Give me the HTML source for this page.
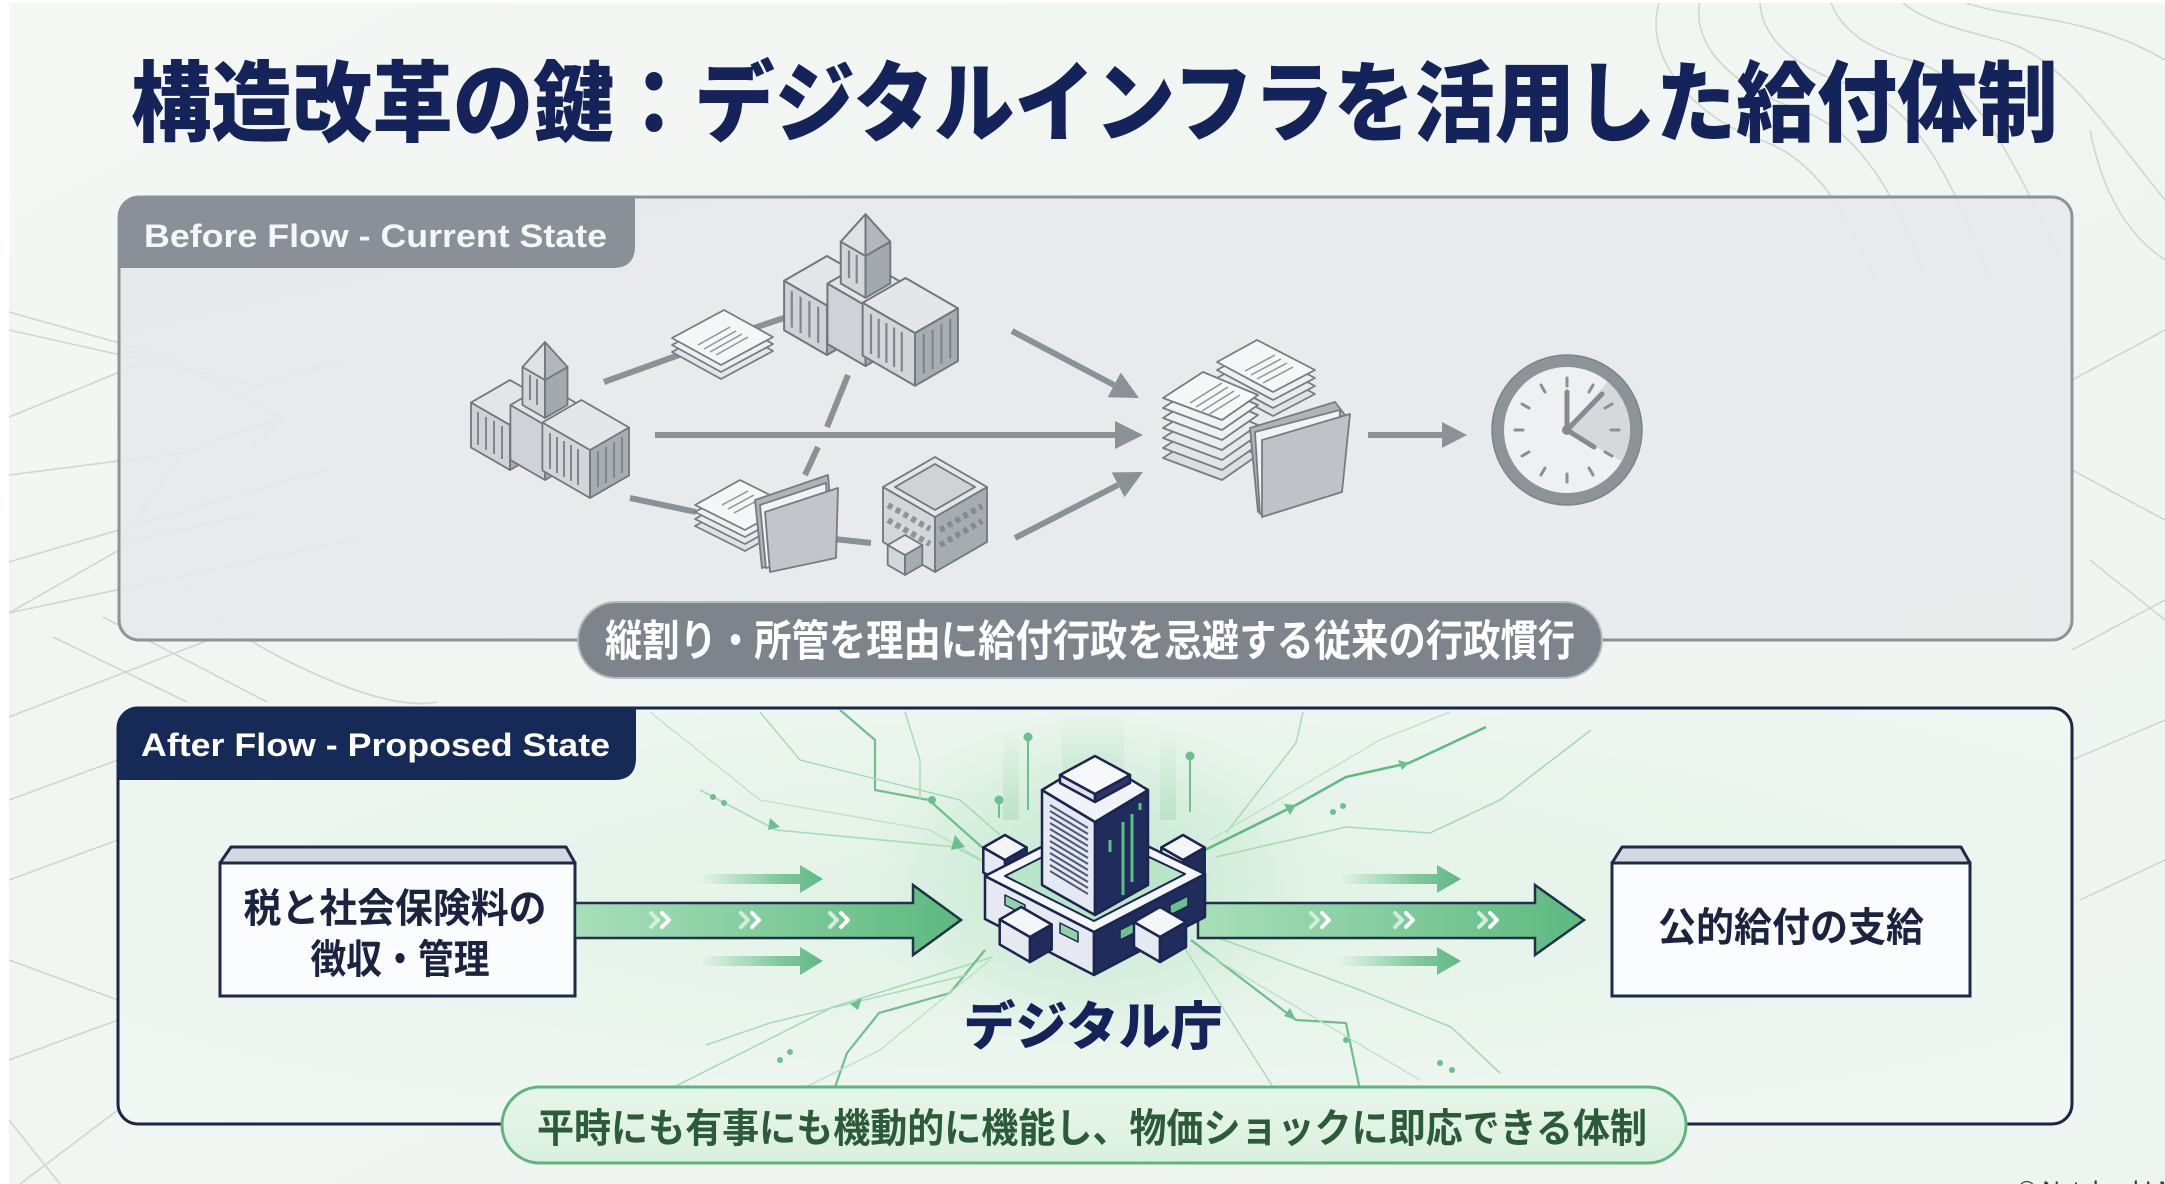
<!DOCTYPE html>
<html><head><meta charset="utf-8">
<style>
html,body{margin:0;padding:0;width:2165px;height:1184px;overflow:hidden;background:#f1f5f1;}
svg{display:block}
</style></head><body>
<svg width="2165" height="1184" viewBox="0 0 2165 1184" xmlns="http://www.w3.org/2000/svg" font-family="'Liberation Sans','Noto Sans CJK JP',sans-serif">
<defs>
 <linearGradient id="bg" x1="0" y1="0" x2="1" y2="1"><stop offset="0" stop-color="#f4f7f4"/><stop offset="1" stop-color="#eef4ef"/></linearGradient>
 <linearGradient id="beforeFill" x1="0" y1="0" x2="1" y2="1"><stop offset="0" stop-color="#e6e8ea"/><stop offset="1" stop-color="#e9ebec"/></linearGradient>
 <radialGradient id="afterFill" cx="0.5" cy="0.45" r="0.65"><stop offset="0" stop-color="#e0f2e5"/><stop offset="1" stop-color="#f1f7f2"/></radialGradient>
 <radialGradient id="glow" cx="0.5" cy="0.5" r="0.5"><stop offset="0" stop-color="#bfe6cc" stop-opacity="0.9"/><stop offset="1" stop-color="#bfe6cc" stop-opacity="0"/></radialGradient>
 <linearGradient id="vglow" x1="0" y1="0" x2="0" y2="1"><stop offset="0" stop-color="#c6e9d1" stop-opacity="0"/><stop offset="1" stop-color="#b8e3c6" stop-opacity="0.9"/></linearGradient>
 <linearGradient id="gArrow" x1="0" y1="0" x2="1" y2="0"><stop offset="0" stop-color="#a9dfba"/><stop offset="1" stop-color="#5cb97f"/></linearGradient>
 <linearGradient id="gSmall" x1="0" y1="0" x2="1" y2="0"><stop offset="0" stop-color="#6cc08d" stop-opacity="0"/><stop offset="0.65" stop-color="#6cc08d" stop-opacity="0.85"/><stop offset="1" stop-color="#5fb983"/></linearGradient>
 <linearGradient id="pillG" x1="0" y1="0" x2="0" y2="1"><stop offset="0" stop-color="#e8f6eb"/><stop offset="1" stop-color="#d9f0df"/></linearGradient>
 <clipPath id="afterClip"><rect x="120" y="710" width="1950" height="412" rx="19"/></clipPath>

 <g id="gov" stroke="#72777d" stroke-width="1.8" stroke-linejoin="round">
  <polygon points="510,470 471,447.5 471,402.5 510,425" fill="#cfd2d6"/>
  <polygon points="510,470 549,447.5 549,402.5 510,425" fill="#a8adb2"/>
  <polygon points="510,425 549,402.5 510,380 471,402.5" fill="#e3e5e7"/>
  <polygon points="545,480 510.4,460 510.4,405 545,425" fill="#cfd2d6"/>
  <polygon points="545,480 579.6,460 579.6,405 545,425" fill="#a8adb2"/>
  <polygon points="545,425 579.6,405 545,385 510.4,405" fill="#e3e5e7"/>
  <polygon points="545,418 522.5,405 522.5,367 545,380" fill="#d3d6d9"/>
  <polygon points="545,418 567.5,405 567.5,367 545,380" fill="#a4a9ae"/>
  <polygon points="522.5,367 545,380 545,342" fill="#dfe1e3"/>
  <polygon points="545,380 567.5,367 545,342" fill="#b3b7bc"/>
  <polygon points="590,498 542.4,470.5 542.4,422.5 590,450" fill="#d3d6d9"/>
  <polygon points="590,498 629,475.5 629,427.5 590,450" fill="#a8adb2"/>
  <polygon points="590,450 629,427.5 581.4,400 542.4,422.5" fill="#e4e6e8"/>
  <g stroke="#80868c" stroke-width="2">
   <line x1="550" y1="433" x2="550" y2="469"/><line x1="557" y1="437" x2="557" y2="473"/><line x1="564" y1="441" x2="564" y2="477"/><line x1="571" y1="445" x2="571" y2="481"/><line x1="578" y1="449" x2="578" y2="485"/>
   <line x1="598" y1="451" x2="598" y2="487"/><line x1="606" y1="447" x2="606" y2="483"/><line x1="614" y1="442" x2="614" y2="478"/><line x1="622" y1="437" x2="622" y2="473"/>
   <line x1="478" y1="412" x2="478" y2="445"/><line x1="486" y1="417" x2="486" y2="450"/><line x1="494" y1="421" x2="494" y2="454"/><line x1="502" y1="426" x2="502" y2="459"/>
   <line x1="530" y1="375" x2="530" y2="400"/><line x1="537" y1="379" x2="537" y2="405"/>
  </g>
 </g>
</defs>

<!-- background -->
<rect width="2165" height="1184" fill="url(#bg)"/>
<g fill="none" stroke="#d1d6d3" stroke-width="1.6">
 <path d="M9,312 L162,355 L282,418"/>
 <path d="M9,330 L260,386 L347,358"/>
 <path d="M9,417 L162,355"/>
 <path d="M9,475 L182,453 L282,418 L198,505 L9,613"/>
 <path d="M182,453 L120,543"/>
 <path d="M9,562 L328,469"/>
 <path d="M120,543 L260,513"/>
 <path d="M9,613 L360,538"/>
 <path d="M182,578 Q207,623 300,667 T437,702"/>
 <path d="M103,617 L267,702"/>
 <path d="M53,637 L187,702"/>
 <path d="M9,717 L227,633"/>
 <path d="M9,800 L118,760"/><path d="M9,880 L118,840"/><path d="M9,960 L118,1000"/><path d="M9,1060 L118,1020"/><path d="M20,1184 L118,1110"/><path d="M60,1184 L9,1120"/>
 <path d="M2072,380 L2165,330"/><path d="M2072,470 L2165,520"/><path d="M2090,560 L2165,620"/><path d="M2072,650 L2165,600"/><path d="M2072,760 L2165,720"/><path d="M2080,900 L2165,860"/>
 <path d="M1660,0 C1640,60 1700,120 1760,140 C1820,160 1850,220 1880,290"/>
 <path d="M1700,0 C1690,50 1740,90 1800,110 C1860,130 1900,200 1930,290"/>
 <path d="M1760,0 C1760,40 1800,70 1850,85 C1910,100 1950,170 1990,280"/>
 <path d="M1830,0 C1840,30 1870,50 1910,60 C1970,75 2010,150 2060,260"/>
 <path d="M1900,0 C1920,20 1960,30 2000,40 C2060,55 2100,120 2165,200"/>
 <path d="M1960,0 C2000,20 2080,10 2165,60"/>
 <path d="M2165,260 C2120,230 2100,180 2090,130"/>
</g>
<rect x="0" y="0" width="9" height="1184" fill="#ffffff"/>
<rect x="0" y="0" width="2165" height="3" fill="#ffffff"/>

<!-- title -->
<text x="131" y="104" font-size="88" font-weight="900" fill="#14245a" dominant-baseline="central" textLength="1927" lengthAdjust="spacingAndGlyphs">構造改革の鍵：デジタルインフラを活用した給付体制</text>

<!-- BEFORE PANEL -->
<rect x="119" y="197" width="1953" height="443" rx="20" fill="url(#beforeFill)" fill-opacity="0.93" stroke="#8d9399" stroke-width="3"/>
<path d="M119,268 L119,217 Q119,197 139,197 L635,197 L635,246 Q635,268 613,268 Z" fill="#8a9097"/>
<text x="144" y="247" font-size="32" font-weight="bold" fill="#f5f6f7" textLength="463" lengthAdjust="spacingAndGlyphs">Before Flow - Current State</text>

<!-- gray connectors -->
<g stroke="#8c9197" stroke-width="6" stroke-linecap="butt" fill="none">
 <line x1="604" y1="382" x2="679" y2="355"/>
 <line x1="754" y1="328" x2="784" y2="318"/>
 <line x1="848" y1="375" x2="827" y2="427"/>
 <line x1="818" y1="447" x2="805" y2="475"/>
 <line x1="630" y1="498" x2="696" y2="512"/>
 <line x1="825" y1="538" x2="871" y2="543"/>
 <line x1="655" y1="435" x2="1117" y2="435"/>
 <line x1="1012" y1="331" x2="1114" y2="385"/>
 <line x1="1015" y1="538" x2="1118" y2="485"/>
 <line x1="1368" y1="435" x2="1444" y2="435"/>
</g>
<g fill="#8c9197">
 <polygon points="1143,435 1115,421 1115,449"/>
 <polygon points="1139,398 1120.7,372.5 1107.7,397.3"/>
 <polygon points="1143,472 1124.5,497.2 1111.7,472.4"/>
 <polygon points="1467,435 1442,422 1442,448"/>
</g>

<!-- gov buildings -->
<use href="#gov"/>
<use href="#gov" transform="translate(871,300) scale(1.1) translate(-550,-420)"/>

<!-- small building -->
<g stroke="#72777d" stroke-width="1.8" stroke-linejoin="round">
 <polygon points="935,572 883,542 883,487 935,517" fill="#d4d7da"/>
 <polygon points="935,572 987,542 987,487 935,517" fill="#a7acb1"/>
 <polygon points="935,517 987,487 935,457 883,487" fill="#e4e6e8"/>
 <polygon points="935,510 975,487 935,464 895,487" fill="#d0d3d6"/>
 <path d="M888,505 L930,529 M888,520 L930,544" stroke="#8f9499" stroke-width="6" stroke-dasharray="5 4"/>
 <path d="M940,530 L982,506 M940,545 L982,521" stroke="#868b91" stroke-width="6" stroke-dasharray="5 4"/>
 <polygon points="905,575 887.7,565 887.7,545 905,555" fill="#d4d7da"/>
 <polygon points="905,575 922.3,565 922.3,545 905,555" fill="#a7acb1"/>
 <polygon points="905,555 922.3,545 905,535 887.7,545" fill="#e8eaec"/>
</g>

<!-- top doc stack -->
<g stroke="#777c82" stroke-width="1.8" stroke-linejoin="round">
 <polygon points="672,352 724,324 773,351 721,379" fill="#e4e6e8"/>
 <polygon points="672,345 724,317 773,344 721,372" fill="#eceeef"/>
 <polygon points="672,338 724,310 773,337 721,365" fill="#f5f6f7"/>
 <g stroke="#8f9499" stroke-width="1.5"><line x1="698" y1="345" x2="730" y2="327"/><line x1="704" y1="349" x2="736" y2="331"/><line x1="710" y1="352" x2="742" y2="334"/><line x1="716" y1="355" x2="748" y2="337"/></g>
</g>

<!-- bottom doc + folder -->
<g stroke="#777c82" stroke-width="1.8" stroke-linejoin="round">
 <polygon points="695,526 740,501 790,526 745,551" fill="#e0e2e4"/>
 <polygon points="695,519 740,494 790,519 745,544" fill="#e8eaeb"/>
 <polygon points="695,512 740,487 790,512 745,537" fill="#eef0f1"/>
 <polygon points="695,505 740,480 790,505 745,530" fill="#f5f6f7"/>
 <g stroke="#8f9499" stroke-width="1.5"><line x1="722" y1="505" x2="748" y2="491"/><line x1="728" y1="509" x2="754" y2="495"/><line x1="734" y1="513" x2="760" y2="499"/></g>
 <polygon points="755,500 828,475 834,548 762,568" fill="#b0b4b9"/>
 <polygon points="760,505 826,483 830,552 766,568" fill="#f2f3f4"/>
 <polygon points="765,512 838,488 836,558 770,572" fill="#c2c6ca"/>
</g>

<!-- merged stack -->
<g stroke="#777c82" stroke-width="1.8" stroke-linejoin="round">
 <polygon points="1217,386 1257,364 1315,394 1273,416" fill="#e0e2e4"/>
 <polygon points="1217,378 1257,356 1315,386 1273,408" fill="#e8eaeb"/>
 <polygon points="1217,370 1257,348 1315,378 1273,400" fill="#eef0f1"/>
 <polygon points="1217,362 1257,340 1315,370 1273,392" fill="#f5f6f7"/>
 <g stroke="#8f9499" stroke-width="1.5"><line x1="1245" y1="371" x2="1275" y2="355"/><line x1="1251" y1="375" x2="1281" y2="359"/><line x1="1257" y1="379" x2="1287" y2="363"/><line x1="1263" y1="383" x2="1293" y2="367"/></g>
 <polygon points="1163,458 1203,432 1258,455 1222,480" fill="#dcdee0"/>
 <polygon points="1163,448 1203,422 1258,445 1222,470" fill="#e2e4e6"/>
 <polygon points="1163,438 1203,412 1258,435 1222,460" fill="#e6e8ea"/>
 <polygon points="1163,428 1203,402 1258,425 1222,450" fill="#eaeced"/>
 <polygon points="1163,418 1203,392 1258,415 1222,440" fill="#eef0f1"/>
 <polygon points="1163,408 1203,382 1258,405 1222,430" fill="#f1f2f3"/>
 <polygon points="1163,398 1203,372 1258,395 1222,420" fill="#f6f7f8"/>
 <g stroke="#8f9499" stroke-width="1.5"><line x1="1190" y1="403" x2="1222" y2="383"/><line x1="1196" y1="407" x2="1228" y2="387"/><line x1="1202" y1="411" x2="1234" y2="391"/><line x1="1208" y1="415" x2="1240" y2="395"/></g>
 <polygon points="1250,428 1335,402 1345,415 1340,488 1258,512" fill="#b0b4b9"/>
 <polygon points="1255,432 1340,410 1338,492 1260,514" fill="#f2f3f4"/>
 <polygon points="1262,440 1350,414 1342,492 1262,517" fill="#bfc3c7"/>
</g>

<!-- clock -->
<circle cx="1567" cy="430" r="69" fill="#eef0f1" stroke="#8e9398" stroke-width="12"/>
<circle cx="1567" cy="430" r="75" fill="none" stroke="#7d8288" stroke-width="1.5"/>
<path d="M1567,430 L1607.5,381.7 A63,63 0 0 1 1621.6,461.5 Z" fill="#d6d9dc"/>
<g stroke="#8a8f95" stroke-width="3" stroke-linecap="round">
 <line x1="1567" y1="378" x2="1567" y2="386"/><line x1="1567" y1="474" x2="1567" y2="482"/>
 <line x1="1515" y1="430" x2="1523" y2="430"/><line x1="1611" y1="430" x2="1619" y2="430"/>
 <line x1="1593" y1="385" x2="1589" y2="392"/><line x1="1612" y1="404" x2="1605" y2="408"/>
 <line x1="1612" y1="456" x2="1605" y2="452"/><line x1="1593" y1="475" x2="1589" y2="468"/>
 <line x1="1541" y1="475" x2="1545" y2="468"/><line x1="1522" y1="456" x2="1529" y2="452"/>
 <line x1="1522" y1="404" x2="1529" y2="408"/><line x1="1541" y1="385" x2="1545" y2="392"/>
</g>
<g stroke="#868b91" stroke-width="5" stroke-linecap="round">
 <line x1="1567" y1="430" x2="1567" y2="392"/>
 <line x1="1567" y1="430" x2="1602" y2="394"/>
 <line x1="1567" y1="430" x2="1594" y2="447"/>
</g>
<circle cx="1567" cy="430" r="5" fill="#868b91"/>

<!-- caption pill -->
<rect x="578" y="602" width="1024" height="76" rx="38" fill="#7e848b" stroke="#b9bdc1" stroke-width="2"/>
<text x="1090" y="642" text-anchor="middle" dominant-baseline="central" font-size="43" font-weight="bold" fill="#ffffff" textLength="970" lengthAdjust="spacingAndGlyphs">縦割り・所管を理由に給付行政を忌避する従来の行政慣行</text>

<!-- AFTER PANEL -->
<rect x="118" y="708" width="1954" height="416" rx="20" fill="url(#afterFill)" fill-opacity="0.95"/>
<g clip-path="url(#afterClip)">
 <ellipse cx="1094" cy="880" rx="230" ry="170" fill="url(#glow)"/>
 <rect x="1062" y="712" width="62" height="100" fill="url(#vglow)"/>
 <rect x="1003" y="730" width="16" height="90" fill="url(#vglow)"/>
 <rect x="1160" y="730" width="16" height="90" fill="url(#vglow)"/>
 <g fill="none" stroke-linejoin="round">
  <path d="M700,790 L776,830 L955,847 L990,865" stroke="#a6dbb7" stroke-width="1.6"/>
  <path d="M840,710 L875,740 L875,790 L929,800 L985,850" stroke="#6cc08d" stroke-width="2.2"/>
  <path d="M760,712 L800,760 L960,800 L1000,835" stroke="#a6dbb7" stroke-width="1.5"/>
  <path d="M650,712 L760,800 L930,830 L1000,870" stroke="#b9e3c5" stroke-width="1.3"/>
  <path d="M905,712 L920,760 L920,800" stroke="#a6dbb7" stroke-width="1.5"/>
  <path d="M1205,850 L1296,805 L1346,777 L1409,763 L1486,727" stroke="#5fba82" stroke-width="2.6"/>
  <path d="M1216,857 L1346,827 L1430,833 L1500,800 L1591,730" stroke="#a6dbb7" stroke-width="1.6"/>
  <path d="M1226,833 L1296,743 L1303,712" stroke="#a6dbb7" stroke-width="1.5"/>
  <path d="M1210,840 L1380,740 L1450,712" stroke="#b9e3c5" stroke-width="1.3"/>
  <path d="M993,957 L833,1007 L674,1087" stroke="#a6dbb7" stroke-width="1.6"/>
  <path d="M985,950 L950,993 L879,1013 L847,1053 L834,1090" stroke="#6cc08d" stroke-width="2.2"/>
  <path d="M967,975 L770,1023 L706,1045" stroke="#a6dbb7" stroke-width="1.5"/>
  <path d="M990,960 L880,1050 L800,1090" stroke="#b9e3c5" stroke-width="1.3"/>
  <path d="M1191,940 L1296,1020 L1346,1023 L1360,1090" stroke="#6cc08d" stroke-width="2.2"/>
  <path d="M1205,933 L1360,990 L1451,1027 L1500,1073" stroke="#a6dbb7" stroke-width="1.6"/>
  <path d="M1184,947 L1275,1090" stroke="#a6dbb7" stroke-width="1.4"/>
  <path d="M1200,950 L1420,1080" stroke="#b9e3c5" stroke-width="1.3"/>
  <path d="M1028,741 L1028,810 M999,804 L999,818 M1190,760 L1190,812" stroke="#6cc08d" stroke-width="2"/>
 </g>
 <g fill="#6cc08d">
  <circle cx="1028" cy="737" r="4.5"/><circle cx="999" cy="800" r="4.5"/><circle cx="932" cy="800" r="4"/><circle cx="1190" cy="756" r="4.5"/>
  <circle cx="713" cy="797" r="3"/><circle cx="724" cy="803" r="3"/><circle cx="1333" cy="812" r="3"/><circle cx="1343" cy="806" r="3"/>
  <circle cx="1346" cy="1040" r="3"/><circle cx="1440" cy="1063" r="3"/><circle cx="1452" cy="1070" r="3"/><circle cx="780" cy="1060" r="3"/><circle cx="790" cy="1052" r="3"/>
  <polygon points="955,835 965,847 951,850"/><polygon points="1296,805 1284,804 1290,815"/><polygon points="850,1004 862,998 858,1010"/><polygon points="1296,1020 1284,1016 1290,1008"/>
  <polygon points="780,827 770,818 768,830"/><polygon points="1409,763 1398,760 1402,770"/>
 </g>
</g>
<rect x="118" y="708" width="1954" height="416" rx="20" fill="none" stroke="#1b2545" stroke-width="3"/>
<path d="M118,780 L118,728 Q118,708 138,708 L636,708 L636,758 Q636,780 614,780 Z" fill="#162a58"/>
<text x="141" y="756" font-size="32" font-weight="bold" fill="#ffffff" textLength="469" lengthAdjust="spacingAndGlyphs">After Flow - Proposed State</text>

<!-- left box -->
<polygon points="231,847 566,847 575,863 220,863" fill="#d4d9e1" stroke="#1f2a48" stroke-width="3" stroke-linejoin="round"/>
<rect x="220" y="863" width="355" height="133" fill="#fbfcfd" stroke="#1f2a48" stroke-width="3"/>
<text x="395" y="909" text-anchor="middle" dominant-baseline="central" font-size="40" font-weight="bold" fill="#1a2340" textLength="303" lengthAdjust="spacingAndGlyphs">税と社会保険料の</text>
<text x="400" y="960" text-anchor="middle" dominant-baseline="central" font-size="40" font-weight="bold" fill="#1a2340" textLength="179" lengthAdjust="spacingAndGlyphs">徴収・管理</text>

<!-- right box -->
<polygon points="1622,847 1961,847 1970,863 1612,863" fill="#d4d9e1" stroke="#1f2a48" stroke-width="3" stroke-linejoin="round"/>
<rect x="1612" y="863" width="358" height="133" fill="#fbfcfd" stroke="#1f2a48" stroke-width="3"/>
<text x="1791" y="928" text-anchor="middle" dominant-baseline="central" font-size="40" font-weight="bold" fill="#1a2340" textLength="266" lengthAdjust="spacingAndGlyphs">公的給付の支給</text>

<!-- small arrows -->
<g fill="url(#gSmall)">
 <polygon points="700,874 800,874 800,865 823,879 800,893 800,884 700,884"/>
 <polygon points="700,956 800,956 800,947 823,961 800,975 800,966 700,966"/>
 <polygon points="1339,874 1437,874 1437,865 1461,879 1437,893 1437,884 1339,884"/>
 <polygon points="1339,956 1437,956 1437,947 1461,961 1437,975 1437,966 1339,966"/>
</g>

<!-- big arrows -->
<polygon points="575,903 913,903 913,885 961,920 913,955 913,938 575,938" fill="url(#gArrow)" stroke="#1e3348" stroke-width="2.5" stroke-linejoin="miter"/>
<polygon points="1198,903 1535,903 1535,885 1584,920 1535,955 1535,938 1198,938" fill="url(#gArrow)" stroke="#1e3348" stroke-width="2.5" stroke-linejoin="miter"/>
<g fill="none" stroke-width="4" stroke-linecap="round" stroke-linejoin="round">
 <path d="M651,913 L658,920 L651,927" stroke="#d3efdb"/><path d="M662,913 L669,920 L662,927" stroke="#ffffff"/>
 <path d="M741,913 L748,920 L741,927" stroke="#d3efdb"/><path d="M752,913 L759,920 L752,927" stroke="#ffffff"/>
 <path d="M830,913 L837,920 L830,927" stroke="#d3efdb"/><path d="M841,913 L848,920 L841,927" stroke="#ffffff"/>
 <path d="M1311,913 L1318,920 L1311,927" stroke="#d3efdb"/><path d="M1322,913 L1329,920 L1322,927" stroke="#ffffff"/>
 <path d="M1395,913 L1402,920 L1395,927" stroke="#d3efdb"/><path d="M1406,913 L1413,920 L1406,927" stroke="#ffffff"/>
 <path d="M1479,913 L1486,920 L1479,927" stroke="#d3efdb"/><path d="M1490,913 L1497,920 L1490,927" stroke="#ffffff"/>
</g>

<!-- digital agency building -->
<g stroke="#1b2550" stroke-width="2.5" stroke-linejoin="round">
 <polygon points="1005,885 983.3,872.5 983.3,847.5 1005,860" fill="#e6e9f2"/>
 <polygon points="1005,885 1026.7,872.5 1026.7,847.5 1005,860" fill="#1f2c5c"/>
 <polygon points="1005,860 1026.7,847.5 1005,835 983.3,847.5" fill="#f3f5fa"/>
 <polygon points="1183,885 1161.3,872.5 1161.3,847.5 1183,860" fill="#e6e9f2"/>
 <polygon points="1183,885 1204.7,872.5 1204.7,847.5 1183,860" fill="#1f2c5c"/>
 <polygon points="1183,860 1204.7,847.5 1183,835 1161.3,847.5" fill="#f3f5fa"/>
 <polygon points="985,876 1094,932 1094,975 985,919" fill="#e6e9f2"/>
 <polygon points="1094,932 1205,874 1205,917 1094,975" fill="#1f2c5c"/>
 <polygon points="985,876 1094,820 1205,874 1094,932" fill="#f4f6fa"/>
 <polygon points="1005,876 1094,831 1185,874 1094,921" fill="#b9e6c8" stroke-width="2"/>
 <polygon points="1005,895 1025,905 1025,915 1005,905" fill="#8fd3a6" stroke-width="1.5"/>
 <polygon points="1060,923 1078,932 1078,942 1060,933" fill="#8fd3a6" stroke-width="1.5"/>
 <polygon points="1120,930 1140,920 1140,930 1120,940" fill="#6cc08d" stroke-width="1.5"/>
 <polygon points="1170,905 1188,896 1188,906 1170,915" fill="#6cc08d" stroke-width="1.5"/>
 <polygon points="1042,790 1095,822 1095,915 1042,885" fill="#e5e9f3"/>
 <polygon points="1095,822 1148,790 1148,885 1095,915" fill="#1f2c5c"/>
 <polygon points="1042,790 1095,758 1148,790 1095,822" fill="#f1f3f8"/>
 <polygon points="1060,775 1095,794 1095,802 1060,783" fill="#dde2ee"/>
 <polygon points="1095,794 1130,775 1130,783 1095,802" fill="#2a3868"/>
 <polygon points="1060,775 1095,756 1130,775 1095,794" fill="#f6f8fb"/>
 <g stroke="#4d5875" stroke-width="2">
  <line x1="1050" y1="805" x2="1088" y2="828"/><line x1="1050" y1="811" x2="1088" y2="834"/><line x1="1050" y1="817" x2="1088" y2="840"/><line x1="1050" y1="823" x2="1088" y2="846"/><line x1="1050" y1="829" x2="1088" y2="852"/><line x1="1050" y1="835" x2="1088" y2="858"/><line x1="1050" y1="841" x2="1088" y2="864"/><line x1="1050" y1="847" x2="1088" y2="870"/><line x1="1050" y1="853" x2="1088" y2="876"/><line x1="1050" y1="859" x2="1088" y2="882"/><line x1="1050" y1="865" x2="1088" y2="888"/><line x1="1050" y1="871" x2="1088" y2="894"/>
 </g>
 <g stroke="#5cbf84" stroke-width="3">
  <line x1="1123" y1="822" x2="1123" y2="895"/><line x1="1132" y1="814" x2="1132" y2="882"/><line x1="1110" y1="840" x2="1110" y2="852"/><line x1="1140" y1="803" x2="1140" y2="810"/>
 </g>
 <polygon points="1030,962 999.7,944.5 999.7,919.5 1030,937" fill="#e6e9f2"/>
 <polygon points="1030,962 1051.7,949.5 1051.7,924.5 1030,937" fill="#1f2c5c"/>
 <polygon points="1030,937 1051.7,924.5 1021.3,907 999.7,919.5" fill="#f4f6fa"/>
 <polygon points="1160,962 1134,947 1134,922 1160,937" fill="#e6e9f2"/>
 <polygon points="1160,962 1186,947 1186,922 1160,937" fill="#1f2c5c"/>
 <polygon points="1160,937 1186,922 1160,907 1134,922" fill="#f4f6fa"/>
</g>
<text x="1093" y="1028" text-anchor="middle" dominant-baseline="central" font-size="52" font-weight="900" fill="#14245a" textLength="259" lengthAdjust="spacingAndGlyphs">デジタル庁</text>

<!-- bottom pill -->
<rect x="502" y="1087" width="1184" height="76" rx="38" fill="url(#pillG)" stroke="#5db67c" stroke-width="3"/>
<text x="1092" y="1129" text-anchor="middle" dominant-baseline="central" font-size="40" font-weight="bold" fill="#2b5b3b" textLength="1110" lengthAdjust="spacingAndGlyphs">平時にも有事にも機動的に機能し、物価ショックに即応できる体制</text>

<text x="2018" y="1198" font-size="24" fill="#333a40">© NotebookLM</text>
</svg>
</body></html>
